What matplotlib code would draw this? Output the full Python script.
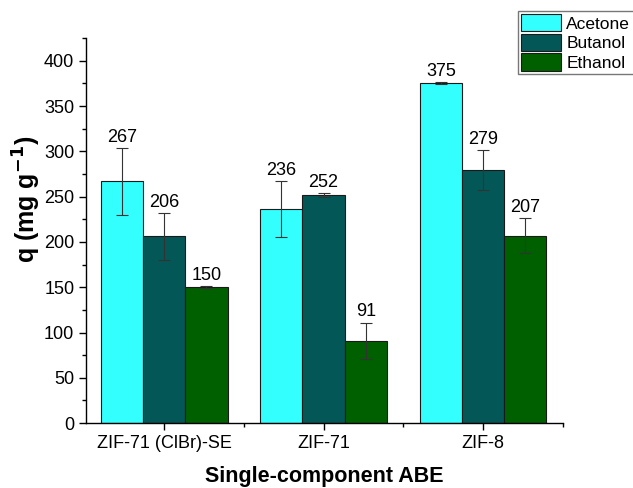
import numpy as np
import matplotlib
matplotlib.use('Agg')
from matplotlib import pyplot as plt
from matplotlib.ticker import MultipleLocator, FixedLocator

plt.rcParams['font.family'] = ['Liberation Sans', 'DejaVu Sans']

materials = ['ZIF-71 (ClBr)-SE', 'ZIF-71', 'ZIF-8']
series = ['Acetone', 'Butanol', 'Ethanol']
acetone = [267, 236, 375]
butanol = [206, 252, 279]
ethanol = [150, 91, 207]
acetone_err = [37, 31, 1]
butanol_err = [26, 2, 22]
ethanol_err = [1, 20, 19]
colors = ['#33FFFF', '#045757', '#006000']

values = [acetone, butanol, ethanol]
errors = [acetone_err, butanol_err, ethanol_err]

fig = plt.figure(figsize=(6.33, 4.88), dpi=100)
ax = fig.add_axes([0.136, 0.133, 0.753, 0.789])

ind = np.arange(len(materials))
width = 0.265
for i, (name, vals, errs, c) in enumerate(zip(series, values, errors, colors)):
    x = ind + (i - 1) * width
    ax.bar(x, vals, width, color=c, edgecolor='#1a1a1a', linewidth=0.8, label=name, zorder=2)
    ax.errorbar(x, vals, yerr=errs, fmt='none', ecolor='#333333', elinewidth=0.8,
                capsize=4, capthick=0.8, zorder=3)
    for xi, v, e in zip(x, vals, errs):
        ax.annotate(str(v), (xi, v + e), xytext=(0, 1.5), textcoords='offset points',
                    ha='center', va='bottom', fontsize=13)

ax.set_xlim(-0.49, 2.5)
ax.set_ylim(0, 425)
ax.set_xticks(ind)
ax.set_xticklabels(materials)
ax.xaxis.set_minor_locator(FixedLocator([0.5, 1.5, 2.5]))
ax.yaxis.set_major_locator(MultipleLocator(50))
ax.yaxis.set_minor_locator(MultipleLocator(25))
ax.tick_params(axis='both', which='major', direction='out', length=5, width=1, labelsize=13)
ax.tick_params(axis='both', which='minor', direction='out', length=3, width=1)
for s in ['top', 'right']:
    ax.spines[s].set_visible(False)
for s in ['left', 'bottom']:
    ax.spines[s].set_linewidth(1)

ax.set_ylabel('q (mg g$^{\\mathbf{-1}}$)', fontsize=18, fontweight='bold')
ax.yaxis.set_label_coords(-0.09, 0.58)
ax.set_xlabel('Single-component ABE', fontsize=15.5, fontweight='bold', labelpad=10)

leg = fig.legend(loc='upper left', bbox_to_anchor=(0.818, 0.978), fontsize=12.5,
                 fancybox=False, framealpha=1, edgecolor='#777777',
                 handlelength=2.3, handleheight=1.15, handletextpad=0.3,
                 labelspacing=0.12, borderpad=0.2, borderaxespad=0)

fig.savefig('out.png', dpi=100)
